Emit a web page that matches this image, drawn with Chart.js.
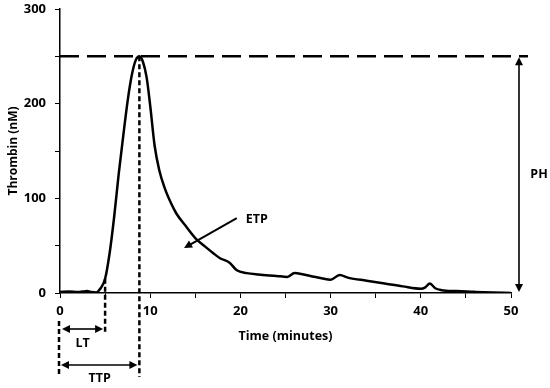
<!DOCTYPE html>
<html>
<head>
<meta charset="utf-8">
<script src="https://cdn.jsdelivr.net/npm/chart.js@4.4.1/dist/chart.umd.min.js"></script>
<style>
    html, body { margin: 0; padding: 0; background: #fff; }
    #wrap { width: 550px; height: 388px; position: relative; }
</style>
</head>
<body>
<div id="wrap"><canvas id="chart" width="550" height="388"></canvas></div>
<script>
// thrombin generation curve
const times = [0, 1, 2, 2.5, 3, 3.5, 4, 4.5, 5, 5.5, 6, 6.5, 7, 7.5, 8, 8.4, 8.8, 9.2, 9.6, 10, 10.5, 11, 11.6, 12.3, 12.9, 14, 15.2, 16.1, 17, 17.7, 18.8, 19.6, 20.7, 22, 24, 25.2, 26, 27, 28, 29, 30, 31, 32, 34, 36, 38, 40, 40.5, 41, 41.6, 42.3, 44, 46, 48, 50];
const thrombin = [1, 1.5, 1, 1.5, 2, 1, 0.5, 5, 15, 42, 80, 125, 165, 203, 232, 246, 250, 244, 228, 198, 155, 130, 111, 95, 84, 70, 56, 49, 42, 37, 32, 24, 21, 19.5, 18, 17, 21, 19.5, 17.5, 15.5, 14, 19, 16, 13, 10, 7, 4.5, 6, 10, 5, 3, 2, 1.2, 0.5, 0];

const xTicks = [0, 10, 20, 30, 40, 50];
const yTicks = [0, 100, 200, 300];

// annotation values
const peakTime = 8.8;
const peakHeight = 250;
const lagTime = 5;
const lagValue = 15;
const etpFrom = [19.6, 79];
const etpTo = [13.75, 47.5];

const FONT = "'Open Sans', 'Liberation Sans', sans-serif";

function arrowHead(ctx, x, y, angle) {
    const len = 8, half = 4;
    ctx.save();
    ctx.translate(x, y);
    ctx.rotate(angle);
    ctx.beginPath();
    ctx.moveTo(0, 0);
    ctx.lineTo(-len, -half);
    ctx.lineTo(-len, half);
    ctx.closePath();
    ctx.fill();
    ctx.restore();
}

function arrowLine(ctx, x1, y1, x2, y2, both) {
    const a = Math.atan2(y2 - y1, x2 - x1);
    ctx.beginPath();
    ctx.moveTo(x1 + (both ? Math.cos(a) * 6 : 0), y1 + (both ? Math.sin(a) * 6 : 0));
    ctx.lineTo(x2 - Math.cos(a) * 6, y2 - Math.sin(a) * 6);
    ctx.stroke();
    arrowHead(ctx, x2, y2, a);
    if (both) arrowHead(ctx, x1, y1, a + Math.PI);
}

const markers = {
    id: 'markers',
    afterDatasetsDraw(chart) {
        const ctx = chart.ctx;
        const xs = chart.scales.x, ys = chart.scales.y;
        const x0 = xs.getPixelForValue(0);
        const xPeak = xs.getPixelForValue(peakTime);
        const xLag = xs.getPixelForValue(lagTime);
        const yPeak = ys.getPixelForValue(peakHeight);
        const yZero = ys.getPixelForValue(0);
        const yLag = ys.getPixelForValue(lagValue);
        const xRight = xs.right;

        ctx.save();
        ctx.strokeStyle = '#000';
        ctx.fillStyle = '#000';

        // peak height line
        ctx.lineWidth = 2.5;
        ctx.setLineDash([19, 8]);
        ctx.beginPath();
        ctx.moveTo(x0, yPeak);
        ctx.lineTo(xRight + 17, yPeak);
        ctx.stroke();

        // vertical dashed drops
        ctx.setLineDash([5, 3]);
        ctx.beginPath();
        ctx.moveTo(xPeak, yPeak);
        ctx.lineTo(xPeak, yZero + 84);
        ctx.moveTo(xLag, yLag);
        ctx.lineTo(xLag, yZero + 41);
        ctx.moveTo(x0 - 1, yZero + 28);
        ctx.lineTo(x0 - 1, yZero + 84);
        ctx.stroke();
        ctx.setLineDash([]);

        // LT / TTP / PH arrows
        ctx.lineWidth = 1.6;
        arrowLine(ctx, x0 + 2, yZero + 36, xLag - 2, yZero + 36, true);
        arrowLine(ctx, x0 + 1, yZero + 72, xPeak - 2, yZero + 72, true);
        arrowLine(ctx, xRight + 8, yPeak + 1, xRight + 8, yZero - 1, true);

        // ETP arrow
        ctx.lineWidth = 2;
        arrowLine(ctx, xs.getPixelForValue(etpFrom[0]), ys.getPixelForValue(etpFrom[1]),
                  xs.getPixelForValue(etpTo[0]), ys.getPixelForValue(etpTo[1]), false);

        ctx.font = 'bold 12.5px ' + FONT;
        ctx.textAlign = 'center';
        ctx.textBaseline = 'middle';
        ctx.fillText('LT', (x0 + xLag) / 2, yZero + 50);
        ctx.fillText('TTP', (x0 + xPeak) / 2, yZero + 85);
        ctx.fillText('PH', xRight + 28, (yPeak + yZero) / 2);
        ctx.textAlign = 'left';
        ctx.fillText('ETP', xs.getPixelForValue(etpFrom[0]) + 9, ys.getPixelForValue(etpFrom[1]) + 1);
        ctx.restore();
    }
};

new Chart(document.getElementById('chart'), {
    type: 'line',
    data: {
        datasets: [{
            data: times.map((t, i) => ({ x: t, y: thrombin[i] })),
            borderColor: '#000',
            borderWidth: 2.5,
            pointRadius: 0,
            cubicInterpolationMode: 'monotone',
            fill: false
        }]
    },
    options: {
        responsive: false,
        animation: false,
        devicePixelRatio: 1,
        layout: { padding: { top: 9, right: 39, left: 0, bottom: 0 } },
        plugins: { legend: { display: false }, tooltip: { enabled: false } },
        scales: {
            x: {
                type: 'linear',
                min: 0, max: 50,
                grid: { drawOnChartArea: false, drawTicks: true, tickLength: 5, color: '#000', lineWidth: 1 },
                border: { display: true, color: '#000', width: 1.5 },
                ticks: {
                    stepSize: 5,
                    color: '#000',
                    font: { family: FONT, size: 13, weight: 'bold' },
                    padding: 5,
                    maxRotation: 0,
                    callback: v => xTicks.includes(v) ? String(v) : ''
                },
                title: {
                    display: true,
                    text: 'Time (minutes)',
                    color: '#000',
                    font: { family: FONT, size: 12.5, weight: 'bold' },
                    padding: { top: 0, bottom: 44 }
                },
                afterFit(scale) {
                    scale.height = 95;
                    scale.paddingLeft = 0;
                    scale.paddingRight = 0;
                }
            },
            y: {
                min: 0, max: 300,
                grid: { drawOnChartArea: false, drawTicks: true, tickLength: 5, color: '#000', lineWidth: 1 },
                border: { display: true, color: '#000', width: 1.5 },
                ticks: {
                    stepSize: 50,
                    color: '#000',
                    font: { family: FONT, size: 13, weight: 'bold' },
                    padding: 9,
                    callback: v => yTicks.includes(v) ? String(v) : ''
                },
                title: {
                    display: true,
                    text: 'Thrombin (nM)',
                    color: '#000',
                    font: { family: FONT, size: 12, weight: 'bold' },
                    padding: { top: 6, bottom: 0 }
                },
                afterFit(scale) {
                    scale.width = 60;
                    scale.paddingTop = 0;
                    scale.paddingBottom = 0;
                }
            }
        }
    },
    plugins: [markers]
});
</script>
</body>
</html>
